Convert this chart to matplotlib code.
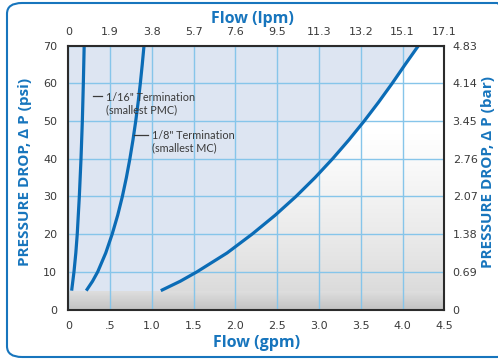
#Pressure drop vs flow chart for the terminations
import numpy as np
import matplotlib
matplotlib.use('Agg')
from matplotlib import pyplot as plt
from matplotlib.patches import FancyBboxPatch
from matplotlib.colors import LinearSegmentedColormap

#Values
gpm_ticks = [0, 0.5, 1.0, 1.5, 2.0, 2.5, 3.0, 3.5, 4.0, 4.5]
gpm_labels = ['0', '.5', '1.0', '1.5', '2.0', '2.5', '3.0', '3.5', '4.0', '4.5']
lpm_labels = ['0', '1.9', '3.8', '5.7', '7.6', '9.5', '11.3', '13.2', '15.1', '17.1']
psi_ticks = [0, 10, 20, 30, 40, 50, 60, 70]
bar_labels = ['0', '0.69', '1.38', '2.07', '2.76', '3.45', '4.14', '4.83']

#1/16" termination (smallest PMC)
psi_116 = [5, 10, 15, 20, 30, 40, 50, 60, 70]
gpm_116 = [0.04, 0.068, 0.09, 0.107, 0.132, 0.152, 0.168, 0.18, 0.19]
#1/8" termination (smallest MC)
psi_18 = [5, 7.5, 10, 15, 20, 25, 30, 35, 40, 45, 50, 55, 60, 65, 70]
gpm_18 = [0.215, 0.29, 0.352, 0.448, 0.525, 0.591, 0.647, 0.695, 0.737, 0.774,
          0.807, 0.836, 0.862, 0.885, 0.906]
#largest termination
psi_big = [5, 7.5, 10, 15, 20, 25, 30, 35, 40, 45, 50, 55, 60, 65, 70]
gpm_big = [1.107, 1.34, 1.54, 1.90, 2.20, 2.475, 2.725, 2.953, 3.163, 3.358,
           3.541, 3.713, 3.876, 4.031, 4.19]

band_top = 5   #psi where the grey band stops

#Annotation text and where the leader dash sits
note1 = '1/16" Termination\n(smallest PMC)'
note1_pos = (0.452, 54.7)
note1_dash = ([0.292, 0.407], [56.6, 56.6])
note2 = '1/8" Termination\n(smallest MC)'
note2_pos = (0.999, 44.5)
note2_dash = ([0.79, 0.951], [46.3, 46.3])

blue = '#0b6cb6'
title_blue = '#1775bd'
text_col = '#3a3a3a'
title_font = ['Open Sans', 'DejaVu Sans']

plt.rcParams['font.family'] = ['Lato', 'DejaVu Sans']

fig = plt.figure(figsize=(4.98, 3.6), dpi=100)

#Rounded blue frame around the chart (runs off the right edge)
frame = FancyBboxPatch((7 / 498, 3 / 360), 505 / 498, 354 / 360,
                       boxstyle='round,pad=0,rounding_size=0.03',
                       transform=fig.transFigure, facecolor='none',
                       edgecolor=title_blue, linewidth=1.5, zorder=0)
fig.patches.append(frame)

ax = fig.add_axes([68.3 / 498, 1 - 309.5 / 360, 376 / 498, 263.8 / 360])
ax.set_xlim(0, 4.5)
ax.set_ylim(0, 70)

#White to grey gradient behind everything
grad = np.linspace(0, 1, 256).reshape(-1, 1)
grad = np.clip(grad * 1.5, 0, 1) ** 0.75
cmap_bg = LinearSegmentedColormap.from_list('bg', ['#d3d3d3', '#ffffff'])
ax.imshow(grad, extent=[0, 4.5, 0, 70], origin='lower', aspect='auto',
          cmap=cmap_bg, vmin=0, vmax=1, zorder=0)

#Light blue area left of the big curve
ax.fill_betweenx(psi_big, 0, gpm_big, color='#dde5f2', linewidth=0, zorder=0.5)

#Grey band at the bottom
band = np.linspace(0, 1, 64).reshape(-1, 1)
cmap_band = LinearSegmentedColormap.from_list('band', ['#c2c2c2', '#dedede'])
ax.imshow(band, extent=[0, 4.5, 0, band_top], origin='lower', aspect='auto',
          cmap=cmap_band, zorder=0.8)

#Grid above the fills
ax.set_axisbelow(False)
ax.grid(True, color='#86c5ea', linewidth=1.0)

for q, p in [(gpm_116, psi_116), (gpm_18, psi_18), (gpm_big, psi_big)]:
    ax.plot(q, p, color=blue, linewidth=2.3, solid_capstyle='butt',
            solid_joinstyle='round', zorder=3)

#Notes
ax.plot(*note1_dash, color=text_col, linewidth=0.9, zorder=3)
ax.text(note1_pos[0], note1_pos[1], note1, fontsize=7.8, color=text_col,
        va='center', ha='left', linespacing=1.1, zorder=3)
ax.plot(*note2_dash, color=text_col, linewidth=0.9, zorder=3)
ax.text(note2_pos[0], note2_pos[1], note2, fontsize=7.8, color=text_col,
        va='center', ha='left', linespacing=1.1, zorder=3)

#Bottom and left axes
tick_font = dict(family='DejaVu Sans', size=8)
ax.set_xticks(gpm_ticks)
ax.set_xticklabels(gpm_labels, **tick_font)
ax.set_yticks(psi_ticks)
ax.set_yticklabels([str(v) for v in psi_ticks], **tick_font)
ax.tick_params(axis='x', length=0, pad=8, labelcolor=text_col)
ax.tick_params(axis='y', length=0, pad=8, labelcolor=text_col)
ax.set_xlabel('Flow (gpm)', fontsize=11.5, fontweight='bold', color=title_blue,
              family=title_font)
ax.xaxis.set_label_coords(0.5, -0.095)
ax.set_ylabel('PRESSURE DROP, \u0394 P (psi)', fontsize=11, fontweight='bold',
              color=title_blue, family=title_font, va='center')
ax.yaxis.set_label_coords(-0.1152, 0.521)

for s in ax.spines.values():
    s.set_color('#2b2b2b')
    s.set_linewidth(1.5)
    s.set_zorder(4)

#Top axis in lpm
top = ax.twiny()
top.set_xlim(ax.get_xlim())
top.set_xticks(gpm_ticks)
top.set_xticklabels(lpm_labels, **tick_font)
top.tick_params(axis='x', length=0, pad=6, labelcolor=text_col)
top.set_xlabel('Flow (lpm)', fontsize=11.5, fontweight='bold', color=title_blue,
               family=title_font)
top.xaxis.set_label_coords(0.49, 1.085)

#Right axis in bar
right = ax.twinx()
right.set_ylim(ax.get_ylim())
right.set_yticks(psi_ticks)
right.set_yticklabels(bar_labels, **tick_font)
right.tick_params(axis='y', length=0, pad=6, labelcolor=text_col)
right.set_ylabel('PRESSURE DROP, \u0394 P (bar)', fontsize=11, fontweight='bold',
                 color=title_blue, family=title_font)
right.yaxis.label.set_va('center')
right.yaxis.set_label_coords(1.1162, 0.521)

for a in (top, right):
    for s in a.spines.values():
        s.set_visible(False)

plt.savefig('out.png', dpi=100)
